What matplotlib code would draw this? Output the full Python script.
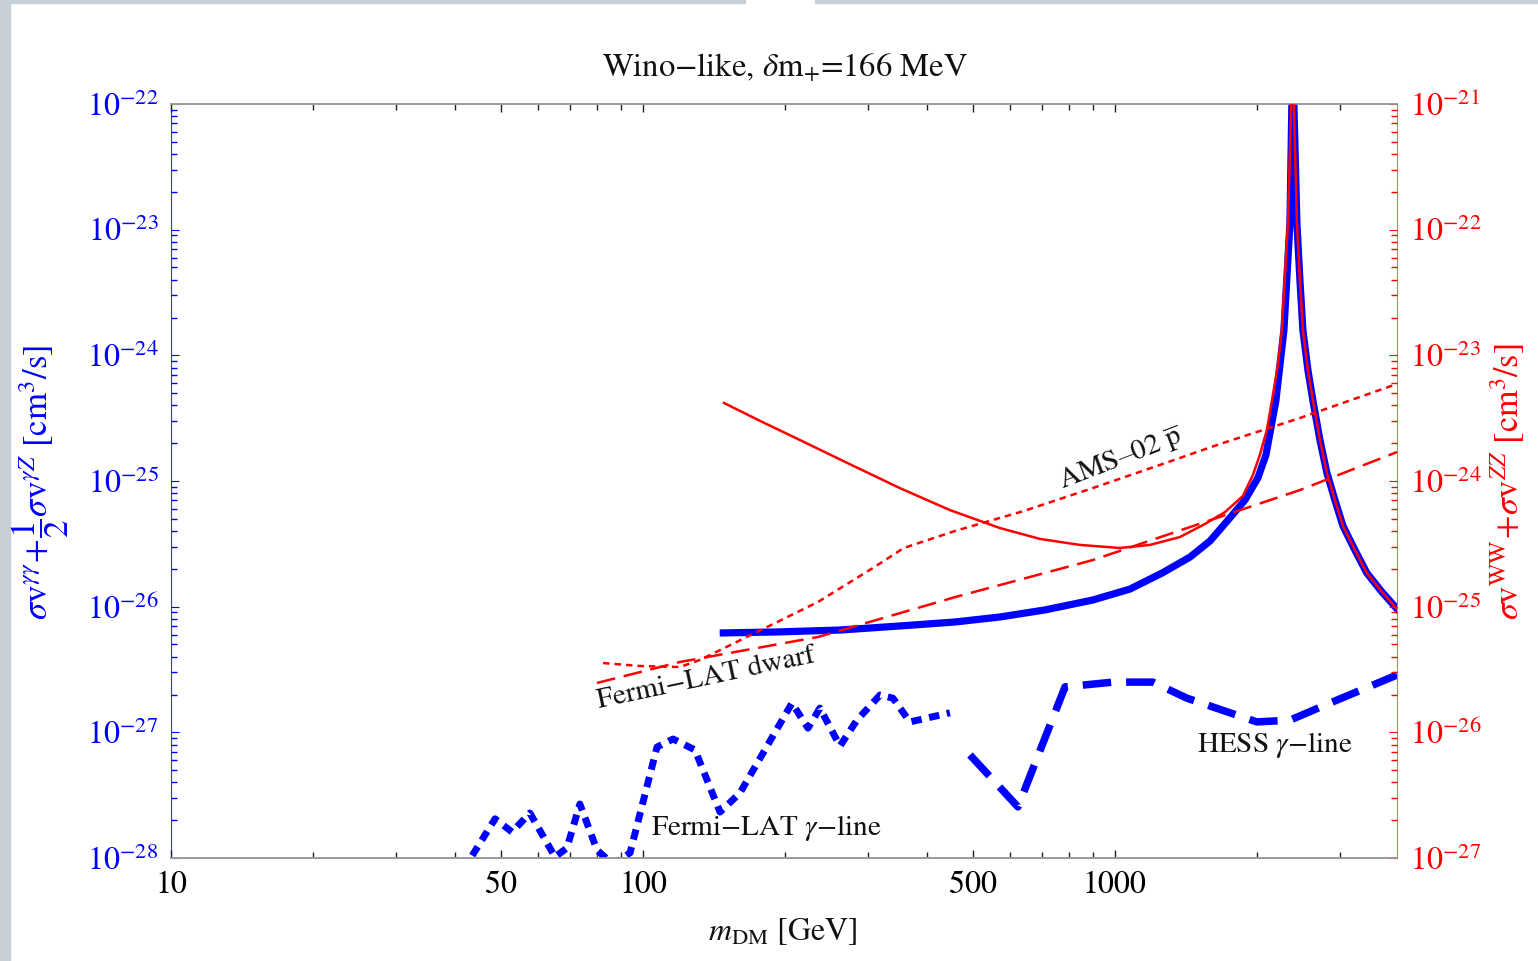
import numpy as np
import matplotlib
matplotlib.use("Agg")
import matplotlib.pyplot as plt
from matplotlib.ticker import FixedLocator, FixedFormatter, NullFormatter
from matplotlib.patches import Rectangle

plt.rcParams['font.family'] = ['STIXGeneral', 'DejaVu Serif']
plt.rcParams['mathtext.fontset'] = 'stix'

# ---------------- data ----------------
# Wino: sigma v (gamma gamma) + 1/2 sigma v (gamma Z)   [left axis, cm^3/s]
m_gg = [148, 195, 262, 350, 458, 571, 711, 898, 1076, 1258, 1442, 1590, 1752, 1886, 2009,
        2089, 2193, 2281, 2349, 2380,
        2430, 2466, 2502, 2564, 2628, 2719, 2813, 2925, 3042, 3225, 3419, 3679, 3960]
sv_gg = [6.18e-27, 6.30e-27, 6.52e-27, 7.02e-27, 7.55e-27, 8.28e-27, 9.42e-27, 1.13e-26,
         1.38e-26, 1.85e-26, 2.48e-26, 3.33e-26, 5.08e-26, 7.06e-26, 1.06e-25,
         1.61e-25, 4.34e-25, 1.59e-24, 1.13e-23, 2.5e-22,
         1.13e-23, 3.98e-24, 1.59e-24, 7.64e-25, 4.34e-25, 2.12e-25, 1.16e-25, 7.06e-26,
         4.39e-26, 2.82e-26, 1.85e-26, 1.31e-26, 9.6e-27]

# Wino: sigma v (WW) + sigma v (ZZ)   [right axis, cm^3/s]
m_ww = [148.5, 177, 215, 274.5, 350, 447, 571, 694, 843, 1025, 1186, 1373, 1551, 1711, 1867,
        1961, 2028, 2099, 2151, 2215, 2258, 2326, 2380,
        2430, 2466, 2502, 2564, 2628, 2719, 2813, 2925, 3042, 3225, 3419, 3679, 3960]
sv_ww = [4.18e-24, 3.01e-24, 2.12e-24, 1.36e-24, 8.79e-25, 5.87e-25, 4.22e-25, 3.46e-25,
         3.10e-25, 2.93e-25, 3.10e-25, 3.58e-25, 4.55e-25, 5.66e-25, 7.60e-25,
         1.12e-24, 1.61e-24, 2.55e-24, 4.34e-24, 8.38e-24, 1.59e-23, 1.13e-22, 2.5e-21,
         1.13e-22, 3.98e-23, 1.59e-23, 7.64e-24, 4.34e-24, 2.12e-24, 1.16e-24, 7.06e-25,
         4.39e-25, 2.82e-25, 1.85e-25, 1.31e-25, 9.6e-26]

# AMS-02 antiproton limit [right axis]
m_ams = [82.3, 98.5, 119.8, 132.1, 167.7, 234.9, 307, 357, 458, 641, 898, 1258, 1669, 2466, 3960]
sv_ams = [3.56e-26, 3.37e-26, 3.31e-26, 3.77e-26, 5.85e-26, 1.09e-25, 2.03e-25, 2.93e-25,
          4.00e-25, 5.77e-25, 8.79e-25, 1.36e-24, 1.97e-24, 3.17e-24, 5.92e-24]

# Fermi-LAT dwarf limit [right axis]
m_dwarf = [79.9, 119.8, 235, 458, 898, 1669, 2466, 3960]
sv_dwarf = [2.47e-26, 3.63e-26, 5.74e-26, 1.19e-25, 2.35e-25, 5.18e-25, 8.47e-25, 1.70e-24]

# Fermi-LAT gamma-line limit [left axis]
m_fline = [41.5, 48.6, 52.8, 57.6, 65.1, 69.0, 73.5, 79.9, 86.4, 93.9, 107.1, 115.8, 128.9,
           145.6, 160.5, 206.9, 223.7, 237.1, 261.5, 284.0, 317.8, 338.6, 367.9, 447.1]
sv_fline = [7.9e-29, 2.05e-28, 1.61e-28, 2.28e-28, 1.02e-28, 1.20e-28, 2.69e-28, 1.16e-28,
            8.9e-29, 1.10e-28, 7.64e-28, 8.85e-28, 7.24e-28, 2.32e-28, 3.29e-28, 1.71e-27,
            1.08e-27, 1.56e-27, 7.78e-28, 1.25e-27, 1.98e-27, 1.87e-27, 1.21e-27, 1.43e-27]

# HESS gamma-line limit [left axis]
m_hess = [493, 623, 784, 991, 1203, 1421, 1999, 2349, 2855, 3960]
sv_hess = [6.61e-28, 2.55e-28, 2.30e-27, 2.51e-27, 2.51e-27, 1.87e-27, 1.21e-27, 1.25e-27,
           1.71e-27, 2.86e-27]

x_major = [10, 50, 100, 500, 1000]
x_major_labels = ['10', '50', '100', '500', '1000']
x_minor = [20, 30, 40, 60, 70, 80, 90, 200, 300, 400, 600, 700, 800, 900, 2000, 3000]
y_left_exp = [-28, -27, -26, -25, -24, -23, -22]
y_right_exp = [-27, -26, -25, -24, -23, -22, -21]

# ---------------- figure ----------------
W, H = 1538, 961
fig = plt.figure(figsize=(W / 100, H / 100), dpi=100)
fig.patch.set_facecolor('white')
border = '#c6d0d6'
fig.patches.append(Rectangle((0, 0), 10 / W, 1, transform=fig.transFigure, color=border, zorder=0))
fig.patches.append(Rectangle((0, 1 - 3 / H), 745 / W, 3 / H, transform=fig.transFigure, color=border, zorder=0))
fig.patches.append(Rectangle((815 / W, 1 - 3 / H), 1 - 815 / W, 3 / H, transform=fig.transFigure, color=border, zorder=0))

L, R, T, B = 171, 1397, 104, 858
ax = fig.add_axes([L / W, 1 - B / H, (R - L) / W, (B - T) / H])
ax2 = ax.twinx()

ax.set_xscale('log')
ax.set_yscale('log')
ax2.set_yscale('log')
ax.set_xlim(10, 3960)
ax.set_ylim(1e-28, 1e-22)
ax2.set_ylim(1e-27, 1e-21)

# blue curves (left axis)
ax.plot(m_gg, sv_gg, color='blue', lw=5.2, solid_joinstyle='round', zorder=3)
ax.plot(m_fline, sv_fline, color='blue', lw=5.0, linestyle=(0, (1.5, 1.1)),
        dash_capstyle='butt', zorder=3)
ax.plot(m_hess, sv_hess, color='blue', lw=5.4, linestyle=(0, (3.8, 2.0)),
        dash_capstyle='butt', zorder=3)

# red curves (right axis)
ax2.plot(m_ww, sv_ww, color='red', lw=1.8, solid_joinstyle='round', zorder=4)
ax2.plot(m_ams, sv_ams, color='red', lw=1.8, linestyle=(0, (2.6, 2.0)), zorder=4)
ax2.plot(m_dwarf, sv_dwarf, color='red', lw=1.8, linestyle=(0, (7.5, 3.5)), zorder=4)

# ---------------- axes styling ----------------
gray = '#9a9a9a'
for a in (ax, ax2):
    a.spines['top'].set_color(gray)
    a.spines['bottom'].set_color(gray)
    a.spines['top'].set_linewidth(1.2)
    a.spines['bottom'].set_linewidth(1.2)
ax.spines['left'].set_color('blue')
ax.spines['right'].set_visible(False)
ax2.spines['left'].set_visible(False)
ax2.spines['right'].set_color('red')
ax2.spines['right'].set_alpha(0.6)
ax.spines['left'].set_alpha(0.8)

ax.xaxis.set_major_locator(FixedLocator(x_major))
ax.xaxis.set_major_formatter(FixedFormatter(x_major_labels))
ax.xaxis.set_minor_locator(FixedLocator(x_minor))
ax.xaxis.set_minor_formatter(NullFormatter())
ax.tick_params(axis='x', which='both', direction='in', top=True, bottom=True,
               color='#222222', labelsize=23, pad=9, labelcolor='black')
ax.tick_params(axis='x', which='major', length=6, width=1.0)
ax.tick_params(axis='x', which='minor', length=4, width=1.0)

for a, col, exps in ((ax, 'blue', y_left_exp), (ax2, 'red', y_right_exp)):
    majors = [10.0 ** e for e in exps]
    minors = [k * 10.0 ** e for e in exps[:-1] for k in range(2, 10)]
    a.yaxis.set_major_locator(FixedLocator(majors))
    a.yaxis.set_major_formatter(FixedFormatter([r"$10^{%d}$" % e for e in exps]))
    a.yaxis.set_minor_locator(FixedLocator(minors))
    a.yaxis.set_minor_formatter(NullFormatter())
    a.tick_params(axis='y', which='both', direction='in', colors=col, labelsize=23, pad=9)
    a.tick_params(axis='y', which='major', length=6, width=0.8)
    a.tick_params(axis='y', which='minor', length=4, width=1.0)
ax.tick_params(axis='y', which='both', left=True, right=False)
ax2.tick_params(axis='y', which='both', left=False, right=True)

# ---------------- texts ----------------
def fx(px):
    return px / W

def fy(py):
    return 1 - py / H

fig.text(fx(785), fy(68), "Wino\u2212like, $\\delta$m$_{+}$=166 MeV", ha='center', va='center',
         fontsize=23.5, color='#111111')
fig.text(fx(783), fy(932), r"$m_{\rm DM}$ [GeV]", ha='center', va='center', fontsize=23, color='#111111')
fig.text(fx(40), fy(482), r"$\sigma\mathrm{v}^{\gamma\gamma}\!+\!\dfrac{1}{2}\sigma\mathrm{v}^{\gamma Z}$ [cm$^3$/s]",
         rotation=90, ha='center', va='center', fontsize=25, color='blue')
fig.text(fx(1508), fy(482), r"$\sigma\mathrm{v}^{\rm WW}\!+\!\sigma\mathrm{v}^{ZZ}$ [cm$^3$/s]",
         rotation=90, ha='center', va='center', fontsize=24.5, color='red')

fig.text(fx(766), fy(828), "Fermi\u2212LAT $\\gamma$\u2212line", ha='center', va='center', fontsize=21, color='#111111')
fig.text(fx(1275), fy(745), "HESS $\\gamma$\u2212line", ha='center', va='center', fontsize=21, color='#111111')
fig.text(fx(706), fy(679), "Fermi\u2212LAT dwarf", ha='center', va='center', fontsize=21,
         rotation=12, rotation_mode='anchor', color='#111111')
fig.text(fx(1121), fy(459), "AMS\u201302 $\\overline{\\mathrm{p}}$", ha='center', va='center', fontsize=21,
         rotation=21, rotation_mode='anchor', color='#111111')

fig.savefig('out.png', dpi=100)
